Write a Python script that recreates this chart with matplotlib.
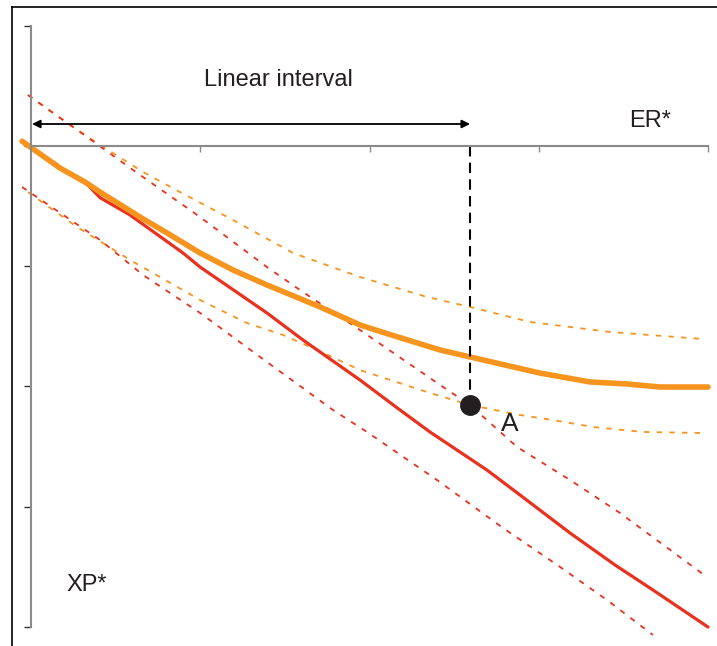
import matplotlib.pyplot as plt
from matplotlib.lines import Line2D

plt.rcParams['font.family'] = ['Liberation Sans', 'DejaVu Sans']

# Curves (data units: x from 0 to 4, y from -4 to 1)
red_x = [-0.053, 0.171, 0.319, 0.408, 0.585, 0.898, 0.999, 1.394, 1.607, 1.944, 2.180,
         2.357, 2.694, 2.889, 3.185, 3.451, 3.675, 4.000]
red_y = [0.040, -0.183, -0.300, -0.430, -0.574, -0.890, -1.007, -1.389, -1.614, -1.947, -2.196,
         -2.379, -2.696, -2.903, -3.220, -3.486, -3.694, -4.002]

orange_x = [-0.053, 0.171, 0.319, 0.408, 0.644, 0.804, 0.999, 1.194, 1.394, 1.708, 1.944, 2.092,
            2.417, 2.594, 3.007, 3.303, 3.521, 3.716, 4.000]
orange_y = [0.040, -0.183, -0.300, -0.383, -0.591, -0.724, -0.890, -1.032, -1.156, -1.339, -1.489,
            -1.556, -1.697, -1.755, -1.889, -1.963, -1.980, -2.005, -2.005]

orange_hi_x = [-0.018, 0.171, 0.390, 0.662, 0.880, 1.194, 1.548, 1.944, 2.340, 2.594,
               2.948, 3.421, 3.970]
orange_hi_y = [0.424, 0.233, 0.025, -0.216, -0.383, -0.616, -0.890, -1.090, -1.256, -1.339,
               -1.464, -1.547, -1.606]

red_hi_x = [-0.018, 0.331, 0.603, 0.999, 1.394, 1.589, 1.944, 2.417, 2.594, 2.872,
            3.185, 3.480, 3.994]
red_hi_y = [0.424, 0.075, -0.200, -0.591, -1.007, -1.198, -1.531, -1.988, -2.155, -2.504,
            -2.779, -3.053, -3.586]

orange_lo_x = [-0.018, 0.272, 0.585, 0.999, 1.276, 1.489, 1.690, 1.944, 2.340, 2.594,
               2.889, 3.084, 3.321, 3.616, 3.970]
orange_lo_y = [-0.383, -0.674, -0.948, -1.281, -1.473, -1.572, -1.697, -1.864, -2.047, -2.155,
               -2.238, -2.280, -2.338, -2.379, -2.388]

red_lo_x = [-0.053, 0.408, 0.662, 0.999, 1.394, 1.784, 1.985, 2.399, 2.789, 3.126,
            3.403, 3.675]
red_lo_y = [-0.341, -0.782, -1.073, -1.389, -1.797, -2.196, -2.379, -2.779, -3.178, -3.502,
            -3.777, -4.068]

point_a = (2.594, -2.155)
interval_end = 2.594

RED = '#e8321e'
ORANGE = '#f7941d'

fig = plt.figure(figsize=(7.17, 6.46), dpi=100)
ax = fig.add_axes([0, 0, 1, 1])
ax.set_xlim(-0.1832, 4.0532)
ax.set_ylim(-4.1597, 1.2146)
ax.patch.set_alpha(0)

# axes through the origin
for side in ['top', 'right']:
    ax.spines[side].set_visible(False)
ax.spines['left'].set_position(('data', 0))
ax.spines['bottom'].set_position(('data', 0))
ax.spines['left'].set_bounds(-4, 1)
ax.spines['bottom'].set_bounds(0, 4)
for side in ['left', 'bottom']:
    ax.spines[side].set_color('#8a8a8a')
    ax.spines[side].set_linewidth(1.5)
ax.set_xticks([1, 2, 3, 4])
ax.set_yticks([-4, -3, -2, -1, 0, 1])
ax.tick_params(axis='x', direction='out', length=4, width=1, color='#8a8a8a', labelbottom=False)
ax.tick_params(axis='y', direction='out', length=5, width=1, color='#333333', labelleft=False)

# dotted bands
dots = dict(lw=1.3, linestyle=(0, (3, 4)))
ax.plot(orange_hi_x, orange_hi_y, color=ORANGE, **dots)
ax.plot(red_hi_x, red_hi_y, color=RED, **dots)
ax.plot(orange_lo_x, orange_lo_y, color=ORANGE, **dots)
ax.plot(red_lo_x, red_lo_y, color=RED, clip_on=False, **dots)

# main curves
ax.plot(red_x, red_y, color=RED, lw=2.3, solid_capstyle='round')
ax.plot(orange_x, orange_y, color=ORANGE, lw=4, solid_capstyle='round')

# linear interval marker
ax.plot([point_a[0], point_a[0]], [0, point_a[1]], color='black', lw=1.5, linestyle=(0, (5, 3)))
ax.plot(*point_a, 'o', color='#231f20', markersize=14)
ax.annotate('', xy=(0.006, 0.183), xytext=(interval_end, 0.183),
            arrowprops=dict(arrowstyle='<|-|>', color='black', lw=1.3, mutation_scale=12,
                            shrinkA=0, shrinkB=0))
ax.text(1.46, 0.55, 'Linear interval', fontsize=17, color='#231f20', ha='center', va='center')
ax.text(3.66, 0.21, 'ER*', fontsize=17, color='#231f20', ha='center', va='center')
ax.text(0.33, -3.65, 'XP*', fontsize=17, color='#231f20', ha='center', va='center')
ax.text(2.83, -2.31, 'A', fontsize=19, color='#231f20', ha='center', va='center')

# outer frame (left and top edges visible)
fig.add_artist(Line2D([11.5 / 717, 11.5 / 717], [0, 1 - 6.5 / 646], color='black', lw=1.2,
                      transform=fig.transFigure))
fig.add_artist(Line2D([11.5 / 717, 1], [1 - 6.5 / 646, 1 - 6.5 / 646], color='black', lw=1.2,
                      transform=fig.transFigure))

fig.savefig('out.png', dpi=100)
